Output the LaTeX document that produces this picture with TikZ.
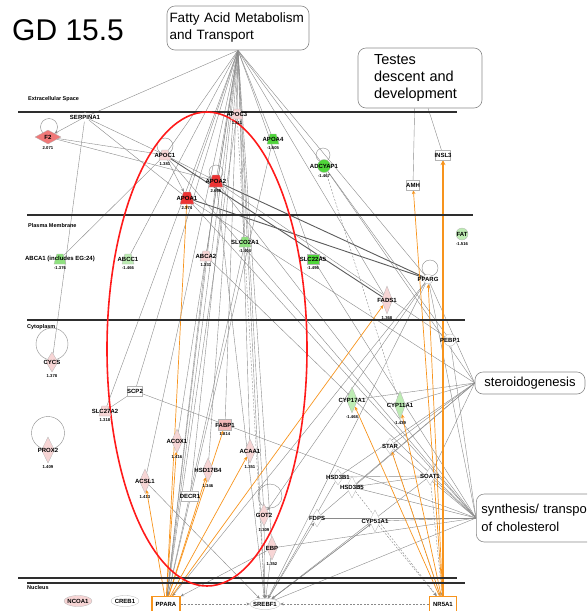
\documentclass[tikz,border=0pt]{standalone}
\usepackage{fontspec}
\setmainfont{Liberation Sans}
\usetikzlibrary{positioning, arrows.meta, shapes.geometric, calc, backgrounds}

\definecolor{linegray}{HTML}{8A8A8A}
\definecolor{darkline}{HTML}{5C5C5C}
\definecolor{nodeedge}{HTML}{B4B4B4}
\definecolor{memgray}{HTML}{2E2E2E}
\definecolor{upred}{HTML}{EE3333}
\definecolor{upmid}{HTML}{F07878}
\definecolor{upsoft}{HTML}{F2B8B8}
\definecolor{uppale}{HTML}{F7D5D5}
\definecolor{dnstrong}{HTML}{4FD63A}
\definecolor{dnmid}{HTML}{8FE27F}
\definecolor{dnpale}{HTML}{BDECB3}
\definecolor{pathorange}{HTML}{F7941D}
\definecolor{hilite}{HTML}{FF1A1A}

\begin{document}
\begin{tikzpicture}[
        x=1pt, y=-1pt,
        fbox/.style={draw=linegray, rounded corners=8pt, line width=0.6pt, fill=white, inner sep=2pt},
        gbase/.style={inner sep=0pt, draw=nodeedge, line width=0.3pt},
        enzyme/.style={gbase, diamond, minimum width=11pt, minimum height=24pt},
        ligand/.style={gbase, diamond, minimum width=26pt, minimum height=14pt},
        transporter/.style={gbase, inner sep=1pt, trapezium, trapezium stretches=true, trapezium left angle=65, trapezium right angle=65, minimum width=12pt, minimum height=10pt},
        otherg/.style={gbase, circle, minimum size=11pt},
        boxg/.style={gbase, rectangle, minimum width=13pt, minimum height=10pt},
        tfactor/.style={gbase, ellipse, minimum width=28pt, minimum height=11pt},
        hub/.style={gbase, rectangle, draw=pathorange, line width=1.1pt, fill=white, minimum width=28pt, minimum height=15pt},
        lab/.style={font=\fontsize{6}{6}\selectfont\bfseries, inner sep=0pt},
        val/.style={font=\fontsize{4.2}{4.2}\selectfont\bfseries, inner sep=0pt, yshift=-2pt},
        gene/.style 2 args={label={[lab]center:{#1}}, label={[val]below:{#2}}},
        gname/.style={label={[lab]center:{#1}}},
        ring/.style={circle, draw=linegray, line width=0.4pt, inner sep=0pt},
        link/.style={draw=linegray, line width=0.4pt},
        blink/.style={draw=darkline, line width=0.9pt},
        dlink/.style={link, dash pattern=on 2pt off 1.5pt},
        act/.style={link, -{Stealth[length=3.5pt, width=3pt]}},
        dact/.style={dlink, -{Stealth[length=3.5pt, width=3pt]}},
        oact/.style={draw=pathorange, line width=0.7pt, -{Stealth[length=4pt, width=3.5pt]}},
        memline/.style={draw=memgray, line width=1.1pt},
        cmplab/.style={font=\fontsize{5.5}{5.5}\selectfont\bfseries, anchor=west, inner sep=0pt}
    ]
    \useasboundingbox (0,0) rectangle (587,611);
    \clip (0,0) rectangle (587,611);

    % title and function boxes
    \node[font=\fontsize{30}{30}\selectfont, anchor=west, inner sep=0pt] (title) at (12,30) {GD 15.5};
    \node[fbox, align=left, text width=137pt, inner xsep=2.5pt, minimum height=44pt, font=\fontsize{13.5}{17}\selectfont] (FAM) at (238,28) {Fatty Acid Metabolism\\and Transport};
    \node[fbox, align=left, text width=92pt, inner xsep=16pt, minimum height=60pt, font=\fontsize{14.5}{17}\selectfont] (TES) at (420,78) {Testes\\descent and\\development};
    \node[fbox, minimum width=110pt, minimum height=22pt, font=\fontsize{13}{13}\selectfont] (STE) at (530,383) {steroidogenesis};
    \node[fbox, anchor=west, align=left, text width=124pt, inner xsep=5pt, minimum height=48pt, font=\fontsize{13}{18}\selectfont] (SYN) at (476,518) {synthesis/ transpo\\of cholesterol};

    % compartments
    \node[cmplab] (lExtra) at (28,99) {Extracellular Space};
    \node[cmplab] (lPM) at (28,226) {Plasma Membrane};
    \node[cmplab] (lCyto) at (27,327) {Cytoplasm};
    \node[cmplab] (lNuc) at (27,588) {Nucleus};

    % extracellular space
    \node[ligand, fill=upmid, gene={F2}{2.071}] (F2) at (48,137) {};
    \node[otherg, fill=white, draw=none, minimum size=9pt, gname={SERPINA1}] (SERPINA1) at (85,117) {};
    \node[transporter, fill=uppale, gene={APOC1}{1.381}] (APOC1) at (165,155) {};
    \node[transporter, fill=uppale, gene={APOC3}{1.311}] (APOC3) at (237,114) {};
    \node[transporter, fill=dnstrong, gene={APOA4}{-1.605}] (APOA4) at (273,139) {};
    \node[otherg, fill=dnstrong, minimum size=13pt, gene={ADCYAP1}{-1.467}] (ADCYAP1) at (324,166) {};
    \node[transporter, fill=upred, minimum width=14pt, minimum height=12pt, gene={APOA2}{2.665}] (APOA2) at (216,181) {};
    \node[transporter, fill=upred, minimum width=14pt, minimum height=12pt, gene={APOA1}{2.374}] (APOA1) at (187,198) {};
    \node[boxg, fill=white, gname={AMH}] (AMH) at (413,185) {};
    \node[boxg, fill=white, minimum width=15pt, gname={INSL3}] (INSL3) at (443,155) {};

    % plasma membrane
    \node[transporter, fill=dnmid, gene={ABCA1 (includes EG:24)}{-1.376}] (ABCA1) at (60,259) {};
    \node[transporter, fill=dnpale, gene={ABCC1}{-1.466}] (ABCC1) at (128,259) {};
    \node[transporter, fill=uppale, gene={ABCA2}{1.331}] (ABCA2) at (206,256) {};
    \node[transporter, fill=dnmid, gene={SLCO2A1}{-1.404}] (SLCO2A1) at (245,242) {};
    \node[boxg, fill=dnstrong, minimum width=12pt, gene={SLC22A5}{-1.496}] (SLC22A5) at (313,259) {};
    \node[otherg, fill=dnpale, minimum size=12pt, gene={FAT}{-1.516}] (FAT) at (462,234) {};
    \node[otherg, fill=white, minimum size=10pt, gname={PPARG}] (PPARG) at (428,279) {};
    \node[enzyme, fill=uppale, minimum height=28pt, gene={FADS1}{1.368}] (FADS1) at (387,300) {};

    % cytoplasm
    \node[otherg, fill=white, minimum size=12pt, gname={PEBP1}] (PEBP1) at (450,340) {};
    \node[enzyme, fill=uppale, minimum width=12pt, minimum height=20pt, gene={CYCS}{1.378}] (CYCS) at (52,362) {};
    \node[enzyme, fill=uppale, minimum width=13pt, minimum height=26pt, gene={PROX2}{1.409}] (PROX2) at (48,450) {};
    \node[boxg, fill=white, minimum width=15pt, gname={SCP2}] (SCP2) at (135,391) {};
    \node[transporter, fill=uppale, gene={SLC27A2}{1.318}] (SLC27A2) at (105,411) {};
    \node[enzyme, fill=uppale, gene={ACOX1}{1.416}] (ACOX1) at (177,441) {};
    \node[boxg, fill=upsoft, minimum height=11pt, gene={FABP1}{1.814}] (FABP1) at (225,425) {};
    \node[enzyme, fill=uppale, gene={ACAA1}{1.351}] (ACAA1) at (250,451) {};
    \node[enzyme, fill=uppale, gene={HSD17B4}{1.346}] (HSD17B4) at (208,470) {};
    \node[enzyme, fill=uppale, gene={ACSL1}{1.413}] (ACSL1) at (145,481) {};
    \node[boxg, fill=white, minimum width=17pt, gname={DECR1}] (DECR1) at (190,496) {};
    \node[enzyme, fill=uppale, minimum height=22pt, gene={GOT2}{1.309}] (GOT2) at (264,515) {};
    \node[enzyme, fill=uppale, gene={EBP}{1.352}] (EBP) at (272,548) {};
    \node[enzyme, fill=white, minimum height=18pt, gname={FDPS}] (FDPS) at (317,518) {};
    \node[enzyme, fill=white, minimum height=22pt, gname={CYP51A1}] (CYP51A1) at (375,521) {};
    \node[enzyme, fill=dnpale, minimum height=26pt, gene={CYP17A1}{-1.468}] (CYP17A1) at (352,400) {};
    \node[enzyme, fill=dnpale, minimum height=28pt, gene={CYP11A1}{-1.439}] (CYP11A1) at (400,405) {};
    \node[enzyme, fill=white, minimum height=16pt, gname={STAR}] (STAR) at (390,446) {};
    \node[enzyme, fill=white, minimum height=16pt, gname={HSD3B1}] (HSD3B1) at (338,477) {};
    \node[enzyme, fill=white, minimum height=22pt, gname={HSD3B5}] (HSD3B5) at (352,487) {};
    \node[enzyme, fill=white, minimum height=18pt, gname={SOAT1}] (SOAT1) at (430,476) {};

    % nucleus
    \node[tfactor, fill=uppale, gname={NCOA1}] (NCOA1) at (78,601) {};
    \node[tfactor, fill=white, gname={CREB1}] (CREB1) at (125,601) {};
    \node[hub, gname={PPARA}] (PPARA) at (166,604) {};
    \node[tfactor, fill=white, minimum width=30pt, gname={SREBF1}] (SREBF1) at (265,604) {};
    \node[hub, minimum width=27pt, gname={NR5A1}] (NR5A1) at (443,604) {};

    \begin{scope}[on background layer]
    % fatty acid fan
    \foreach \g in {SERPINA1, APOC3, APOA4, ADCYAP1, APOC1, APOA2, APOA1, ABCA2, SLCO2A1, SLC22A5, ABCC1, SCP2, SLC27A2, ACOX1, FABP1, ACAA1, HSD17B4, ACSL1, DECR1, GOT2, EBP, PPARA, SREBF1, PPARG, FADS1}
        \draw[link] (FAM.south) -- (\g);
    \draw[link] (TES.-100) -- (AMH);
    \draw[link] (TES.-75) -- (INSL3);
    \foreach \g in {CYP17A1, CYP11A1, STAR, HSD3B1, HSD3B5, SOAT1, PPARG, FDPS, APOA1, ADCYAP1}
        \draw[link] (STE.west) -- (\g);
    \foreach \g in {SCP2, CYP51A1, FDPS, EBP, SOAT1, HSD3B5, STAR, SREBF1, APOA1, APOC1, APOA2, PPARG, PEBP1, ABCA2, SLC22A5}
        \draw[link] (SYN.west) -- (\g);

    % gene to gene
    \draw[act] (SERPINA1) -- (F2);
    \draw[link] (F2) -- (APOC1);
    \draw[link] (F2) -- (APOA2);
    \draw[link] (SERPINA1) -- (APOC1);
    \draw[link] (SERPINA1) -- (APOA1);
    \draw[link] (CYCS) -- (SERPINA1);
    \draw[link] (APOC1) -- (ABCA1);
    \draw[act] (APOC1) -- (APOA2);
    \draw[act] (APOC1) -- (APOA1);
    \draw[blink] (APOC1) -- (FADS1);
    \draw[blink] (APOA2) -- (PPARG);
    \draw[blink] (APOA1) -- (PPARG);
    \draw[link] (PEBP1) -- (APOA2);
    \draw[link] (PEBP1) -- (ADCYAP1);
    \draw[dlink] (ADCYAP1) -- (CYP11A1);
    \draw[act] (SOAT1) -- (HSD3B5);
    \draw[link] (HSD3B1) -- (SOAT1);
    \draw[act] (SREBF1) -- (CYP51A1);
    \draw[act] (SREBF1) -- (FDPS);
    \draw[act] (PPARG) -- (GOT2);
    \draw[link] (SCP2) -- (SLC27A2);
    \foreach \g in {APOC3, APOA4, APOA2, ABCA2, PPARG, EBP, SLCO2A1}
        \draw[act] (\g) -- (PPARA);
    \foreach \g in {ACSL1, GOT2, EBP, CYP51A1, SOAT1, HSD3B1, PPARG, APOA2}
        \draw[act] (\g) -- (SREBF1);
    \foreach \g in {STAR, HSD3B5, CYP51A1, SOAT1}
        \draw[dact] (\g) -- (NR5A1);
    \draw[dlink] (APOC3) -- (SREBF1);
    \draw[dact] (NR5A1) -- (SREBF1);
    \draw[dact] (PPARA) -- (SREBF1);

    % orange activation
    \draw[oact, line width=2.4pt, -{Stealth[length=5pt, width=5pt]}] (NR5A1) -- (INSL3);
    \foreach \g in {AMH, PPARG, CYP17A1, CYP11A1, STAR}
        \draw[oact] (NR5A1) -- (\g);
    \foreach \g in {ACSL1, ACOX1, HSD17B4, FABP1, ACAA1, APOA1, FADS1}
        \draw[oact] (PPARA) -- (\g);

    % membranes
    \draw[memline] (18,112) -- (457,112);
    \draw[memline] (27,215) -- (473,215);
    \draw[memline] (27,320) -- (465,320);
    \draw[memline] (18,578) -- (457,578);
    \draw[memline] (27,583) -- (465,583);

    % self loops
    \node[ring, minimum size=17pt] (F2loop) at (49,127) {};
    \node[ring, minimum size=16pt] (APOC1loop) at (165,146) {};
    \node[ring, minimum size=14pt] (APOA2loop) at (216,172) {};
    \node[ring, minimum size=14pt] (ADCYAP1loop) at (323,155) {};
    \node[ring, minimum size=16pt] (PPARGloop) at (430,268) {};
    \node[ring, minimum size=32pt] (CYCSloop) at (52,344) {};
    \node[ring, minimum size=33pt] (PROX2loop) at (48,433) {};
    \node[ring, minimum size=24pt] (GOT2loop) at (270,496) {};

    % highlighted cluster
    \node[ellipse, draw=hilite, line width=1.6pt, inner sep=0pt, minimum width=200pt, minimum height=474pt] (FAhalo) at (207,349) {};
    \end{scope}
\end{tikzpicture}
\end{document}
